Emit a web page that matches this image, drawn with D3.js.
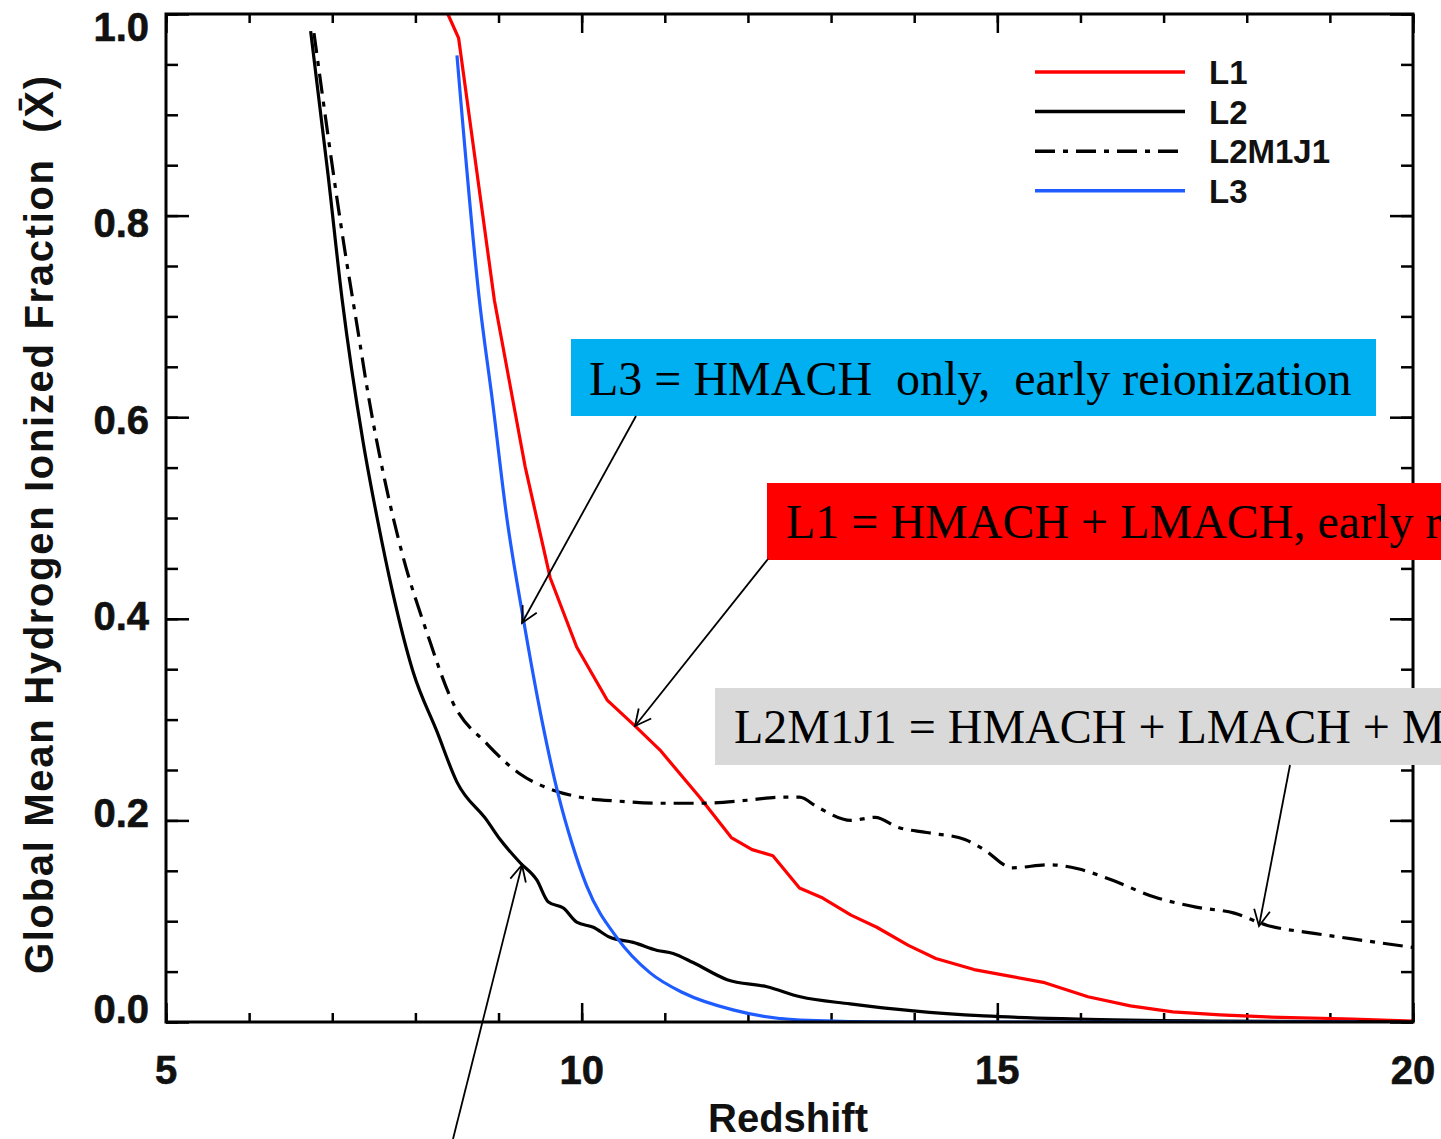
<!DOCTYPE html>
<head>
<title>Global mean ionized fraction vs redshift</title>
<meta charset="utf-8">
<style>
body { margin: 0; background: #fff; }
.tick line { stroke: #000; stroke-width: 2.5px; }
.domain { display: none; }
.lab { font-family: "Liberation Sans", Arial, sans-serif; font-weight: bold; fill: #111; }
.note { font-family: "Liberation Serif", "Times New Roman", serif; font-size: 48px; fill: #000; white-space: pre; }
.curve { fill: none; stroke-width: 3.2px; stroke-linejoin: round; }
</style>
</head>
<body>
<svg width="1441" height="1139"></svg>
<script src="https://cdn.jsdelivr.net/npm/d3@7"></script>
<script>
// redshift / ionized fraction
let l1Z = [8.39, 8.52, 8.95, 9.32, 9.62, 9.94, 10.31, 10.65, 10.94, 11.42, 11.80, 12.05, 12.30, 12.62, 12.90, 13.24, 13.55, 13.93, 14.26, 14.72, 15.18, 15.57, 16.09, 16.60, 17.11, 17.68, 18.24, 19.27, 20.0]
let l1X = [1.0, 0.976, 0.716, 0.551, 0.441, 0.372, 0.319, 0.293, 0.270, 0.223, 0.183, 0.171, 0.165, 0.133, 0.123, 0.106, 0.094, 0.076, 0.063, 0.052, 0.045, 0.039, 0.025, 0.016, 0.010, 0.007, 0.005, 0.003, 0.001]

let l2Z = [6.74, 6.95, 7.12, 7.37, 7.54, 7.73, 7.97, 8.26, 8.50, 8.86, 9.02, 9.26, 9.46, 9.60, 9.78, 9.94, 10.14, 10.34, 10.62, 10.91, 11.10, 11.34, 11.75, 12.23, 12.63, 13.23, 13.99, 14.84, 15.97, 17.68, 20.0]
let l2X = [0.983, 0.840, 0.716, 0.576, 0.500, 0.425, 0.348, 0.288, 0.238, 0.200, 0.181, 0.158, 0.141, 0.119, 0.113, 0.099, 0.094, 0.084, 0.079, 0.071, 0.068, 0.059, 0.042, 0.035, 0.025, 0.018, 0.011, 0.006, 0.003, 0.001, 0.0]

let l2m1j1Z = [6.78, 7.15, 7.30, 7.45, 7.63, 7.85, 8.14, 8.45, 8.86, 9.26, 9.66, 9.98, 10.46, 10.94, 11.42, 11.99, 12.39, 12.62, 12.84, 13.24, 13.53, 13.81, 14.15, 14.61, 14.84, 15.18, 15.63, 15.97, 16.37, 16.89, 17.39, 17.85, 18.24, 18.81, 19.39, 20.0]
let l2m1j1X = [0.981, 0.766, 0.690, 0.614, 0.538, 0.462, 0.386, 0.317, 0.276, 0.246, 0.230, 0.223, 0.219, 0.217, 0.217, 0.220, 0.223, 0.223, 0.213, 0.200, 0.203, 0.193, 0.188, 0.181, 0.171, 0.153, 0.156, 0.152, 0.141, 0.124, 0.114, 0.108, 0.096, 0.088, 0.081, 0.074]

let l3Z = [8.50, 8.77, 8.93, 9.10, 9.30, 9.52, 9.72, 9.88, 10.06, 10.43, 10.82, 11.22, 11.82, 12.63, 13.83, 19.33]
let l3X = [0.959, 0.716, 0.614, 0.500, 0.399, 0.300, 0.225, 0.178, 0.135, 0.083, 0.049, 0.029, 0.012, 0.002, 0.0, 0.0]

let seriesNames = ["L1", "L2", "L2M1J1", "L3"]
let seriesColors = ["#ff0000", "#000000", "#000000", "#1f5cff"]
let seriesDash = [null, null, "20,8,5,8", null]

let xMajor = [5, 10, 15, 20]
let yMajor = [0, 0.2, 0.4, 0.6, 0.8, 1.0]
let xLabel = "Redshift"
let yLabel = "Global Mean Hydrogen Ionized Fraction  (X\u0304)"

let notes = [
  {text: "L3 = HMACH  only,  early reionization", fill: "#00b0f0", box: [571, 339, 805, 77], tx: 589, ty: 395, from: [636, 416], to: [522, 623]},
  {text: "L1 = HMACH + LMACH, early reionization", fill: "#ff0000", box: [767, 483, 700, 77], tx: 786, ty: 538, from: [768, 559], to: [635, 726]},
  {text: "L2M1J1 = HMACH + LMACH + M", fill: "#d9d9d9", box: [715, 688, 760, 77], tx: 734, ty: 743, from: [1290, 765], to: [1259, 926]},
  {text: null, from: [453, 1139], to: [522, 865]}
]

let svg = d3.select("svg")
svg.append("rect").attr("width", 1441).attr("height", 1139).attr("fill", "#fff")

let x = d3.scaleLinear().domain([5, 20]).range([166, 1413])
let y = d3.scaleLinear().domain([0, 1]).range([1022, 14])
// label centres sit slightly inside the tick positions in the original
let yl = d3.scaleLinear().domain([0, 1]).range([1009, 27])

let xMinor = d3.range(5, 20.001, 1)
let yMinor = d3.range(0, 1.0001, 0.05)

function ax(gen, vals, len, tr){
  svg.append("g").attr("transform", tr)
    .call(gen.tickValues(vals).tickSize(-len).tickFormat(""))
}
ax(d3.axisBottom(x), xMinor, 9, "translate(0,1022)")
ax(d3.axisBottom(x), xMajor, 19, "translate(0,1022)")
ax(d3.axisTop(x), xMinor, 9, "translate(0,14)")
ax(d3.axisTop(x), xMajor, 19, "translate(0,14)")
ax(d3.axisLeft(y), yMinor, 12, "translate(166,0)")
ax(d3.axisLeft(y), yMajor, 23, "translate(166,0)")
ax(d3.axisRight(y), yMinor, 12, "translate(1413,0)")
ax(d3.axisRight(y), yMajor, 23, "translate(1413,0)")

svg.append("defs").append("clipPath").attr("id", "clip")
  .append("rect").attr("x", 166).attr("y", 0).attr("width", 1247).attr("height", 1022)

let data = [
  d3.zip(l1Z, l1X),
  d3.zip(l2Z, l2X),
  d3.zip(l2m1j1Z, l2m1j1X),
  d3.zip(l3Z, l3X)
]
let lineLin = d3.line().x(d => x(d[0])).y(d => y(d[1]))
let line = d3.line().curve(d3.curveMonotoneX).x(d => x(d[0])).y(d => y(d[1]))

let plot = svg.append("g").attr("clip-path", "url(#clip)")
data.forEach((d, i) => {
  plot.append("path").datum(d)
    .attr("class", "curve")
    .attr("stroke", seriesColors[i])
    .attr("stroke-dasharray", seriesDash[i])
    .attr("d", i == 0 ? lineLin : line)
})

// frame
svg.append("rect").attr("x", 166).attr("y", 14).attr("width", 1247).attr("height", 1008)
  .attr("fill", "none").attr("stroke", "#000").attr("stroke-width", 3)

// tick labels
svg.selectAll(".xl").data(xMajor).enter().append("text")
  .attr("class", "lab").attr("font-size", 40).attr("font-weight", "normal")
  .attr("x", d => x(d)).attr("y", 1084).attr("text-anchor", "middle")
  .attr("stroke", "#111").attr("stroke-width", 0.6)
  .text(d => d)
svg.selectAll(".yl").data(yMajor).enter().append("text")
  .attr("class", "lab").attr("font-size", 40).attr("font-weight", "normal")
  .attr("x", 149).attr("y", d => yl(d) + 14).attr("text-anchor", "end")
  .attr("stroke", "#111").attr("stroke-width", 0.6)
  .text(d => d3.format(".1f")(d))

svg.append("text").attr("class", "lab").attr("font-size", 40)
  .attr("x", 788).attr("y", 1132).attr("text-anchor", "middle").text(xLabel)
svg.append("text").attr("class", "lab").attr("font-size", 40)
  .attr("transform", "translate(53,525) rotate(-90)")
  .attr("text-anchor", "middle").attr("textLength", 898).attr("lengthAdjust", "spacing")
  .style("white-space", "pre")
  .text(yLabel)

// legend
let leg = svg.append("g")
seriesNames.forEach((n, i) => {
  let ly = 72 + i * 39.6
  leg.append("line").attr("x1", 1035).attr("x2", 1185).attr("y1", ly).attr("y2", ly)
    .attr("stroke", seriesColors[i]).attr("stroke-width", 3.5)
    .attr("stroke-dasharray", seriesDash[i])
  leg.append("text").attr("class", "lab").attr("font-size", 33)
    .attr("x", 1209).attr("y", ly + 12).text(n)
})

// annotations
let defs = svg.select("defs")
defs.append("marker").attr("id", "arr")
  .attr("viewBox", "0 0 20 20").attr("refX", 18).attr("refY", 10)
  .attr("markerWidth", 20).attr("markerHeight", 20).attr("markerUnits", "userSpaceOnUse")
  .attr("orient", "auto")
  .append("path").attr("d", "M2,2 L18,10 L2,18").attr("fill", "none")
  .attr("stroke", "#000").attr("stroke-width", 1.8)

notes.forEach(n => {
  if (n.text) {
    svg.append("rect").attr("x", n.box[0]).attr("y", n.box[1])
      .attr("width", n.box[2]).attr("height", n.box[3]).attr("fill", n.fill)
    svg.append("text").attr("class", "note").attr("x", n.tx).attr("y", n.ty).text(n.text)
  }
  svg.append("line").attr("x1", n.from[0]).attr("y1", n.from[1])
    .attr("x2", n.to[0]).attr("y2", n.to[1])
    .attr("stroke", "#000").attr("stroke-width", 1.8)
    .attr("marker-end", "url(#arr)")
})
</script>
</body>
